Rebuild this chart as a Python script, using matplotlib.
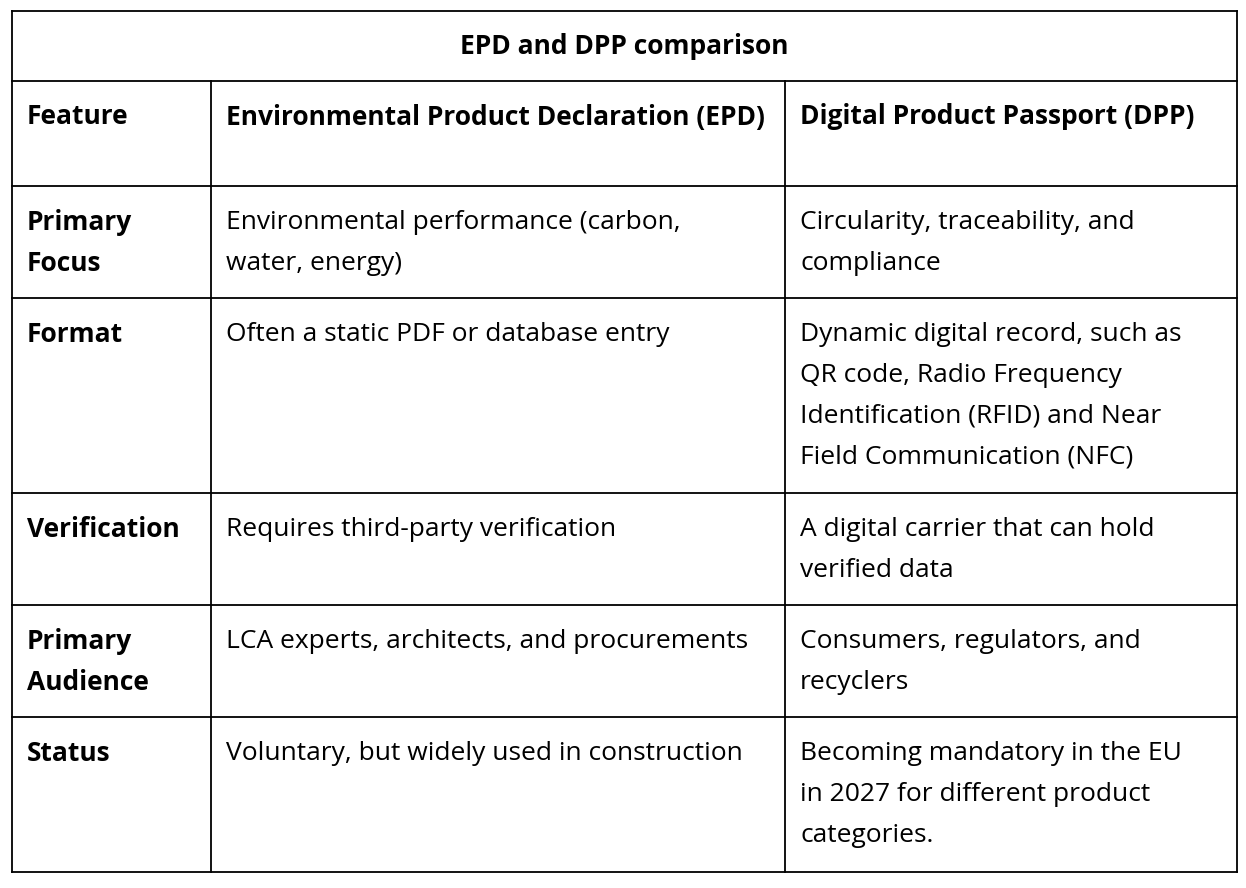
import matplotlib
matplotlib.use("Agg")
import matplotlib.pyplot as plt

title = "EPD and DPP comparison"
headers = ["Feature", "Environmental Product Declaration (EPD)", "Digital Product Passport (DPP)"]
features = [["Primary", "Focus"], ["Format"], ["Verification"], ["Primary", "Audience"], ["Status"]]
epd = [["Environmental performance (carbon,", "water, energy)"],
       ["Often a static PDF or database entry"],
       ["Requires third-party verification"],
       ["LCA experts, architects, and procurements"],
       ["Voluntary, but widely used in construction"]]
dpp = [["Circularity, traceability, and", "compliance"],
       ["Dynamic digital record, such as", "QR code, Radio Frequency", "Identification (RFID) and Near", "Field Communication (NFC)"],
       ["A digital carrier that can hold", "verified data"],
       ["Consumers, regulators, and", "recyclers"],
       ["Becoming mandatory in the EU", "in 2027 for different product", "categories."]]

W, H = 1246, 888
fig = plt.figure(figsize=(W/100, H/100), dpi=100)
ax = fig.add_axes([0, 0, 1, 1])
ax.set_xlim(0, W); ax.set_ylim(H, 0); ax.axis("off")

left, right = 12, 1237
cols = [left, 211, 785, right]
rows = [11, 81, 186, 298, 493, 605, 717, 872]
lw = 1.3
for y in rows:
    ax.plot([left, right], [y, y], color="black", lw=lw)
for x in [left, right]:
    ax.plot([x, x], [rows[0], rows[-1]], color="black", lw=lw)
for x in cols[1:3]:
    ax.plot([x, x], [rows[1], rows[-1]], color="black", lw=lw)

fam = ["Open Sans", "DejaVu Sans"]
fs = 19
ax.text((left+right)/2, 46, title, ha="center", va="center", fontsize=fs, fontweight="bold", family=fam)
for j, h in enumerate(headers):
    ax.text(cols[j]+15, rows[1]+36, h, ha="left", va="center", fontsize=fs, fontweight="bold", family=fam)
for i in range(len(features)):
    top = rows[i+2]
    for j, cell in enumerate([features[i], epd[i], dpp[i]]):
        for k, line in enumerate(cell):
            ax.text(cols[j]+15, top+36+k*41, line, ha="left", va="center", fontsize=fs,
                    fontweight="bold" if j == 0 else "normal", family=fam)
fig.savefig("out.png", dpi=100)
